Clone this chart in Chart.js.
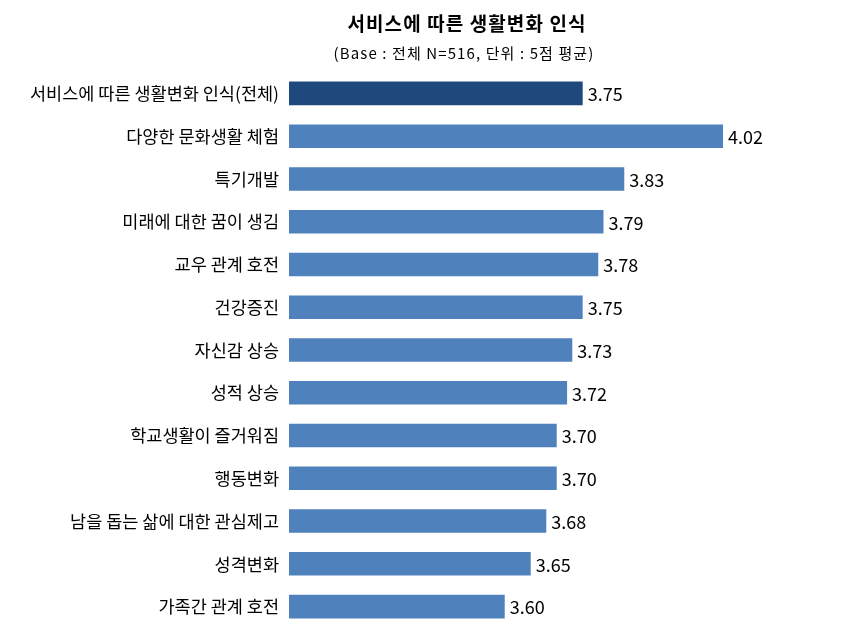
<!DOCTYPE html>
<html>
<head>
<meta charset="utf-8">
<script src="https://cdn.jsdelivr.net/npm/chart.js@4"></script>
<style>
  body { margin: 0; background: #fff; }
  #wrap { width: 851px; height: 640px; }
</style>
</head>
<body>
<div id="wrap"><canvas id="myChart"></canvas></div>
<script>
const chartTitle = '서비스에 따른 생활변화 인식';
const chartSubtitle = '(Base : 전체 N=516, 단위 : 5점 평균)';
const categories = [
  '서비스에 따른 생활변화 인식(전체)',
  '다양한 문화생활 체험',
  '특기개발',
  '미래에 대한 꿈이 생김',
  '교우 관계 호전',
  '건강증진',
  '자신감 상승',
  '성적 상승',
  '학교생활이 즐거워짐',
  '행동변화',
  '남을 돕는 삶에 대한 관심제고',
  '성격변화',
  '가족간 관계 호전'
];
const scores = [3.75, 4.02, 3.83, 3.79, 3.78, 3.75, 3.73, 3.72, 3.70, 3.70, 3.68, 3.65, 3.60];
const axisMin = 3.185;
const axisMax = 4.17;

const FONT = '"Noto Sans CJK KR", "Noto Sans", sans-serif';

// Title and subtitle drawn above the plot
const titlePlugin = {
  id: 'titles',
  afterDraw(chart) {
    const ctx = chart.ctx;
    ctx.save();
    ctx.fillStyle = '#000';
    ctx.textAlign = 'center';
    ctx.textBaseline = 'middle';
    ctx.font = 'bold 19px ' + FONT;
    ctx.letterSpacing = '1.1px';
    ctx.fillText(chartTitle, 467, 24);
    ctx.font = '15px ' + FONT;
    ctx.letterSpacing = '1.1px';
    ctx.fillText(chartSubtitle, 464, 53);
    ctx.restore();
  }
};

// Value labels at the end of each bar
const valueLabels = {
  id: 'valueLabels',
  afterDatasetsDraw(chart) {
    const ctx = chart.ctx;
    const meta = chart.getDatasetMeta(0);
    ctx.save();
    ctx.fillStyle = '#000';
    ctx.font = '18px ' + FONT;
    ctx.textAlign = 'left';
    ctx.textBaseline = 'middle';
    meta.data.forEach((bar, i) => {
      ctx.fillText(scores[i].toFixed(2), bar.x + 5, bar.y + 1);
    });
    ctx.restore();
  }
};

const ctx = document.getElementById('myChart').getContext('2d');
new Chart(ctx, {
  type: 'bar',
  data: {
    labels: categories,
    datasets: [{
      data: scores,
      backgroundColor: scores.map((v, i) => i === 0 ? '#1F497D' : '#4F81BD'),
      barPercentage: 0.55,
      categoryPercentage: 1
    }]
  },
  options: {
    indexAxis: 'y',
    responsive: true,
    maintainAspectRatio: false,
    animation: false,
    layout: { padding: { top: 72, bottom: 12, left: 0, right: 50 } },
    plugins: {
      legend: { display: false },
      tooltip: { enabled: false },
      title: { display: false }
    },
    scales: {
      x: {
        display: false,
        min: axisMin,
        max: axisMax
      },
      y: {
        grid: { display: false, drawTicks: false },
        border: { display: false },
        afterFit: (s) => {
          s.width = 289;
          s.paddingTop = 0;
          s.paddingBottom = 0;
        },
        ticks: {
          padding: 10,
          color: '#000',
          font: { family: FONT, size: 17.5 }
        }
      }
    }
  },
  plugins: [titlePlugin, valueLabels]
});
</script>
</body>
</html>
